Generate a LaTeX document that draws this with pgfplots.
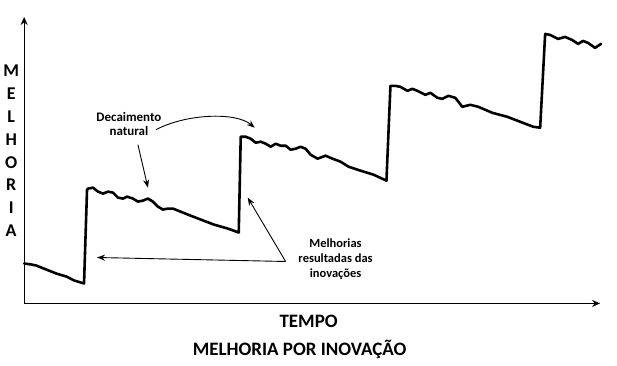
\documentclass[border=0pt]{standalone}
\usepackage{pgfplots}
\pgfplotsset{compat=1.18}
\usepackage{fontspec}
\setmainfont{Carlito}
\usetikzlibrary{arrows.meta}
\begin{document}
\begin{tikzpicture}
\begin{axis}[
  scale only axis, width=577pt, height=287pt,
  xmin=23, xmax=600, ymin=0, ymax=287,
  axis lines=left, ticks=none,
  axis line style={line width=1.3pt, -{Stealth[length=8pt,width=7pt]}},
  clip=false,
]
\path (axis cs:0,-62) rectangle (axis cs:617,304);
\addplot[line width=2.6pt, line join=round, line cap=round] coordinates {
(23,40) (30,39) (35,38) (40,36) (45,34) (55,30) (65,27) (73,23) (83,20)
(86,114)
(87,115) (92,116) (97,112) (102,110) (107,112) (112,111) (117,106) (122,105) (126,107) (132,105) (137,102) (142,103) (147,105) (152,102) (157,97) (162,94) (167,95) (172,95) (177,93) (187,89) (200,84) (213,79) (227,75) (238,71)
(240,167)
(245,167) (250,165) (255,161) (260,162) (265,160) (270,157) (275,160) (280,158) (285,158) (290,154) (295,155) (300,157) (305,155) (310,149) (317,145) (325,148) (332,145) (340,142) (348,137) (360,133) (373,129) (386,123)
(390,218)
(395,218) (400,217) (407,213) (412,215) (417,213) (425,209) (430,211) (437,206) (442,205) (448,208) (455,206) (462,197) (470,199) (478,197) (492,191) (507,187) (520,182) (533,177) (540,176)
(545,270)
(550,269) (558,265) (565,267) (572,264) (578,260) (583,263) (588,261) (595,256) (601,260)
};
% annotation arrows
\draw[line width=0.9pt, -{Stealth[length=8pt,width=6pt]}] (axis cs:137,159) -- (axis cs:147,116);
\draw[line width=0.9pt, -{Stealth[length=8pt,width=6pt]}] (axis cs:155,174) .. controls (axis cs:185,190) and (axis cs:235,192) .. (axis cs:254,176);
\draw[line width=0.9pt, -{Stealth[length=8pt,width=6pt]}] (axis cs:285,42) -- (axis cs:96,46);
\draw[line width=0.9pt, -{Stealth[length=8pt,width=6pt]}] (axis cs:285,42) -- (axis cs:247,106);
% texts
\node[align=center, font=\bfseries\fontsize{13}{14}\selectfont] at (axis cs:128,180) {Decaimento\\natural};
\node[align=center, font=\bfseries\fontsize{12.5}{15}\selectfont] at (axis cs:335,44) {Melhorias\\resultadas das\\inovações};
\node[align=center, font=\bfseries\fontsize{18}{23}\selectfont] at (axis cs:10,153) {M\\E\\L\\H\\O\\R\\I\\A};
\node[font=\bfseries\fontsize{19}{20}\selectfont] at (axis cs:308,-18) {TEMPO};
\node[font=\bfseries\fontsize{19}{20}\selectfont] at (axis cs:299,-46) {MELHORIA POR INOVAÇÃO};
\end{axis}
\end{tikzpicture}
\end{document}
